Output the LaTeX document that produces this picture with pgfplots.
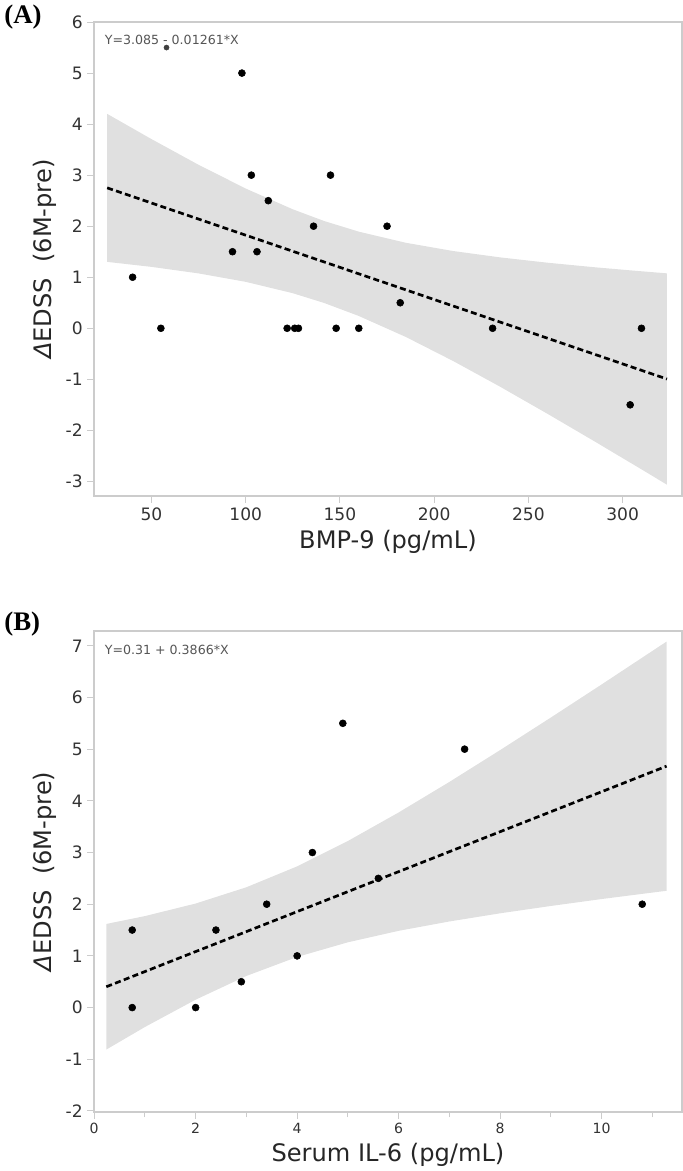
\documentclass[border=0pt]{standalone}
\usepackage{fontspec}
\setmainfont{DejaVu Sans}
\newfontfamily\serifb{Liberation Serif}
\usepackage{pgfplots}
\pgfplotsset{compat=1.18}

\definecolor{axisgray}{RGB}{204,204,204}
\definecolor{tickgray}{RGB}{51,51,51}
\definecolor{bandc}{gray}{0.66}
\definecolor{eqgray}{RGB}{85,85,85}

\pgfplotsset{
  panel/.style={
    scale only axis, width=438.75pt,
    axis line style={axisgray, line width=1.1pt},
    tick style={axisgray, line width=0.8pt},
    major tick length=5pt, minor tick length=4pt,
    tick align=outside, xtick pos=bottom, ytick pos=left,
    ticklabel style={font=\fontsize{12.75}{14}\selectfont, text=tickgray},
    /pgf/number format/assume math mode=true,
    label style={font=\fontsize{18}{20}\selectfont, text=black!85},
    ylabel={{\itshape Δ}EDSS\ \ (6M-pre)},
  },
  pts/.style={only marks, mark=*, mark size=2.6pt, black},
  band/.style={fill=bandc, fill opacity=0.357, draw=none},
  fit/.style={black, line width=2pt, dash pattern=on 4.5pt off 2.5pt},
}

\begin{document}
\begin{tikzpicture}

% (A) BMP-9
\begin{axis}[panel, name=A, anchor=north west, at={(0,0)},
  height=354pt,
  xmin=19.6, xmax=331.4, ymin=-3.29, ymax=6,
  xtick={50,100,...,300}, ytick={-3,-2,...,6},
  xlabel={BMP-9 (pg/mL)},
]
  \addplot[pts] coordinates {
    (40,1) (98,5) (103,3) (112,2.5) (93,1.5) (106,1.5) (136,2) (145,3)
    (175,2) (55,0) (122,0) (126,0) (128,0) (148,0) (160,0) (231,0)
    (310,0) (182,0.5) (304,-1.5)
  };
  \addplot[pts, mark size=1.9pt, black!75] coordinates {(58,5.5)};
  \addplot[band] coordinates {
    (26.5,4.201) (50,3.707) (75,3.203) (100,2.738) (125,2.331) (141.6,2.102)
    (160,1.893) (185,1.675) (210,1.514) (235,1.389) (260,1.285) (285,1.196)
    (305,1.132) (323.5,1.076)
    (323.5,-3.064) (305,-2.654) (285,-2.214) (260,-1.673) (235,-1.145)
    (210,-0.640) (185,-0.171) (160,0.241) (141.6,0.496) (125,0.687)
    (100,0.910) (75,1.075) (50,1.203) (26.5,1.301)
  } -- cycle;
  \addplot[fit] coordinates {(26.5,2.751) (323.5,-0.994)};
\end{axis}
\node[anchor=north west, font=\fontsize{9.4}{11}\selectfont, text=eqgray]
  at ([xshift=4.5pt, yshift=-6pt]A.north west) {Y=3.085 - 0.01261*X};
\node[anchor=base west, font=\serifb\bfseries\fontsize{20}{22}\selectfont]
  at ([xshift=-70.5pt, yshift=-0.75pt]A.north west) {(A)};

% (B) Serum IL-6
\begin{axis}[panel, name=B, anchor=north west, at={(0,-454.5pt)},
  height=359.25pt,
  xmin=0, xmax=11.58, ymin=-2.02, ymax=7.29,
  xtick={0,2,...,10}, minor xtick={1,3,...,11}, ytick={-2,-1,...,7},
  xticklabel style={font=\fontsize{10.5}{12}\selectfont},
  xlabel={Serum IL-6 (pg/mL)},
]
  \addplot[pts] coordinates {
    (0.75,1.5) (0.75,0) (2.0,0) (2.4,1.5) (2.9,0.5) (3.4,2) (4.0,1)
    (4.3,3) (4.9,5.5) (5.6,2.5) (7.3,5) (10.8,2)
  };
  \addplot[band] coordinates {
    (0.24,1.618) (1,1.770) (2,2.013) (3,2.328) (4,2.732) (5,3.223)
    (6,3.775) (7,4.366) (8,4.982) (9,5.612) (10,6.252) (11.28,7.082)
    (11.28,2.260) (10,2.100) (9,1.966) (8,1.824) (7,1.666) (6,1.485)
    (5,1.263) (4,0.980) (3,0.612) (2,0.153) (1,-0.376) (0.24,-0.812)
  } -- cycle;
  \addplot[fit] coordinates {(0.24,0.403) (11.28,4.671)};
\end{axis}
\node[anchor=north west, font=\fontsize{9.4}{11}\selectfont, text=eqgray]
  at ([xshift=4.5pt, yshift=-7pt]B.north west) {Y=0.31 + 0.3866*X};
\node[anchor=base west, font=\serifb\bfseries\fontsize{20}{22}\selectfont]
  at ([xshift=-70.5pt, yshift=0pt]B.north west) {(B)};

\end{tikzpicture}
\end{document}
